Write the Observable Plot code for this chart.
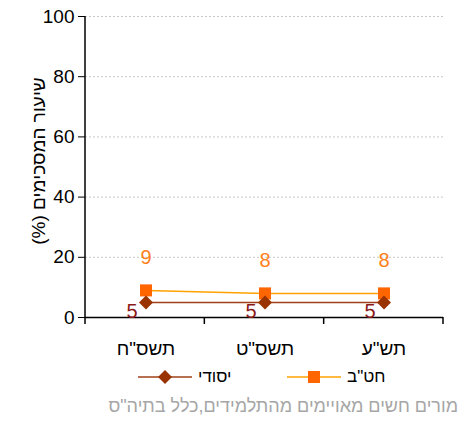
<!DOCTYPE html>
<html><head><meta charset="utf-8">
<script src="https://cdn.jsdelivr.net/npm/d3@7"></script>
<script src="https://cdn.jsdelivr.net/npm/@observablehq/plot@0.6"></script>
<style>
body{margin:0;background:#fff;font-family:"Liberation Sans",Arial,sans-serif;}
#wrap{position:relative;width:460px;height:421px;overflow:hidden;}
#chart{position:absolute;left:0;top:0;}
#legend{position:absolute;top:366px;left:0;width:460px;height:22px;}
.item{position:absolute;top:0;display:flex;align-items:center;font-size:17px;color:#000;height:22px;}
.item svg{display:block;}
#caption{position:absolute;top:396px;right:2px;white-space:nowrap;direction:rtl;font-size:18px;color:#a6a6a6;}
</style></head><body>
<div id="wrap"><div id="chart"></div><div id="legend"></div><div id="caption"></div></div>
<script>
const years = ['תשס"ח', 'תשס"ט', 'תש"ע'];
const hativa = [9, 8, 8];
const yesodi = [5, 5, 5];
const seriesNames = ['חט"ב', 'יסודי'];
const yTicks = [0, 20, 40, 60, 80, 100];
const yTitle = 'שיעור המסכימים (%)';
const captionText = 'מורים חשים מאויימים מהתלמידים,כלל בתיה"ס';

const hatData = years.map((y, i) => ({year: y, value: hativa[i]}));
const yesData = years.map((y, i) => ({year: y, value: yesodi[i]}));

const FONT = '"Liberation Sans",Arial,sans-serif';
const plot = Plot.plot({
  width: 460, height: 362,
  marginTop: 16, marginRight: 17, marginBottom: 45, marginLeft: 85,
  style: {fontFamily: FONT, fontSize: "19px", color: "#000", background: "transparent", overflow: "visible"},
  x: {type: "band", domain: years, padding: 0, tickSize: 0, tickPadding: 24, label: null},
  y: {domain: [0, 100], ticks: yTicks, tickSize: 7, tickPadding: 4, label: null, tickFormat: d => String(d)},
  marks: [
    Plot.ruleY(yTicks.filter(d => d > 0), {y: d => d, stroke: "#c8c8c8", strokeDasharray: "2,2", strokeWidth: 1}),
    Plot.ruleY([0], {y: d => d, stroke: "#000", strokeWidth: 1.5}),
    Plot.line(hatData, {x: "year", y: "value", stroke: "#FFA200", strokeWidth: 1.5}),
    Plot.line(yesData, {x: "year", y: "value", stroke: "#A0401A", strokeWidth: 1.5}),
    Plot.dot(hatData, {x: "year", y: "value", symbol: "square", r: 6.8, fill: "#FF6600", stroke: "none"}),
    Plot.dot(yesData, {x: "year", y: "value", symbol: "diamond2", r: 6.3, fill: "#993300", stroke: "none"}),
    Plot.text(hatData, {x: "year", y: "value", text: d => String(d.value), dy: -33, fill: "#FF7F1A", fontSize: 20}),
    Plot.text(yesData, {x: "year", y: "value", text: d => String(d.value), dx: -14, dy: 9, fill: "#8a1a1a", fontSize: 20}),
    Plot.text([yTitle], {text: d => d, frameAnchor: "left", textAnchor: "middle", rotate: -90, dx: -47, dy: -6, fontSize: 19, fill: "#000", className: "ytitle"})
  ]
});
document.getElementById("chart").appendChild(plot);

const svg = d3.select(plot);
// right-to-left title
svg.selectAll(".ytitle text").style("direction", "rtl").style("unicode-bidi", "embed");

// axis line on the left and tick marks on band boundaries, from the plot's own scales
const xs = plot.scale("x"), ys = plot.scale("y");
const [xr0, xr1] = xs.range;
const yBottom = Math.max(...ys.range), yTop = Math.min(...ys.range);
const step = (xr1 - xr0) / years.length;
const g = svg.append("g").attr("stroke", "#000").attr("stroke-width", 1.5);
g.append("line").attr("x1", xr0).attr("x2", xr0).attr("y1", yTop).attr("y2", yBottom);
d3.range(years.length + 1).forEach(i => {
  const x = xr0 + i * step;
  g.append("line").attr("x1", x).attr("x2", x).attr("y1", yBottom).attr("y2", yBottom + 7);
});

// legend
const legend = document.getElementById("legend");
function item(left, name, color, lineColor, sym) {
  const div = document.createElement("div");
  div.className = "item"; div.style.left = left + "px";
  const s = d3.create("svg").attr("width", 56).attr("height", 20);
  s.append("line").attr("x1", 0).attr("x2", 54).attr("y1", 10).attr("y2", 10).attr("stroke", lineColor).attr("stroke-width", 1.5);
  if (sym === "square") s.append("rect").attr("x", 21).attr("y", 4).attr("width", 12).attr("height", 12).attr("fill", color);
  else s.append("path").attr("d", "M27,3L34,10L27,17L20,10Z").attr("fill", color);
  div.appendChild(s.node());
  const t = document.createElement("span"); t.textContent = name; t.style.marginLeft = "4px";
  div.appendChild(t);
  legend.appendChild(div);
}
item(138, seriesNames[1], "#993300", "#A0401A", "diamond");
item(287, seriesNames[0], "#FF6600", "#FFA200", "square");

document.getElementById("caption").textContent = captionText;
</script>
</body></html>
